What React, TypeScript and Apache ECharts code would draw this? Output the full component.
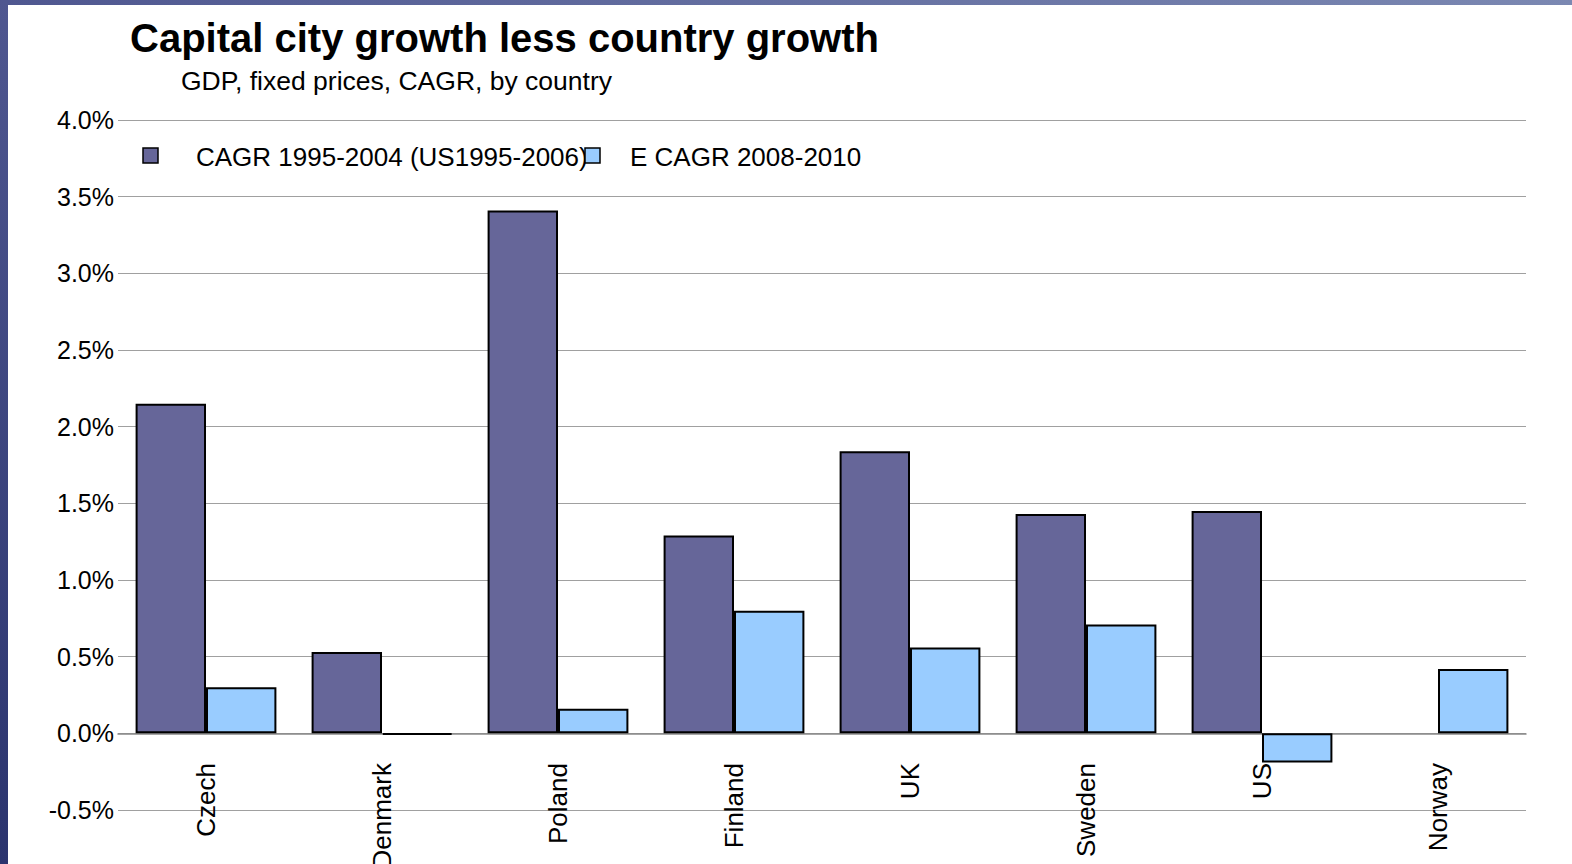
import React, { useEffect, useRef } from "react";
import * as echarts from "echarts";

const categories = ["Czech", "Denmark", "Poland", "Finland", "UK", "Sweden", "US", "Norway"];
const cagr1995 = [2.15, 0.53, 3.41, 1.29, 1.84, 1.43, 1.45, null];
const cagr2008 = [0.3, -0.01, 0.16, 0.8, 0.56, 0.71, -0.19, 0.42];
const seriesNames = ["CAGR 1995-2004 (US1995-2006)", "E CAGR 2008-2010"];
const titleText = "Capital city growth less country growth";
const subtitleText = "GDP, fixed prices, CAGR, by country";

const DARK = "#666699";
const LIGHT = "#99ccff";
const FONT = "'Liberation Sans', Arial, sans-serif";

export default function App() {
  const ref = useRef<HTMLDivElement>(null);
  useEffect(() => {
    const chart = echarts.init(ref.current!, null, { renderer: "svg" });
    chart.setOption({
      animation: false,
      backgroundColor: "#ffffff",
      textStyle: { fontFamily: FONT },
      title: [
        {
          text: titleText,
          left: 125,
          top: 13,
          textStyle: { fontSize: 40, fontWeight: "bold", color: "#000", fontFamily: FONT },
        },
        {
          text: subtitleText,
          left: 176,
          top: 62,
          textStyle: { fontSize: 26.5, fontWeight: "normal", color: "#000", fontFamily: FONT },
        },
      ],
      grid: { left: 118, right: 46, top: 120, bottom: 54, containLabel: false, outerBoundsMode: "none" },
      xAxis: {
        type: "category",
        data: categories,
        axisLine: { onZero: true, lineStyle: { color: "#888", width: 1.5 } },
        axisTick: { show: false },
        axisLabel: { rotate: 90, margin: -47, fontSize: 26, color: "#000", fontFamily: FONT },
        splitLine: { show: false },
      },
      yAxis: {
        type: "value",
        min: -0.5,
        max: 4.0,
        interval: 0.5,
        axisLine: { show: false },
        axisTick: { show: false },
        axisLabel: {
          fontSize: 25,
          color: "#000",
          margin: 4,
          fontFamily: FONT,
          formatter: (v: number) => v.toFixed(1) + "%",
        },
        splitLine: { lineStyle: { color: "#a0a0a0", width: 1.2 } },
      },
      series: [
        {
          name: seriesNames[0],
          type: "bar",
          data: cagr1995,
          barGap: "0%",
          barCategoryGap: "20%",
          itemStyle: { color: DARK, borderColor: "#000", borderWidth: 2 },
        },
        {
          name: seriesNames[1],
          type: "bar",
          data: cagr2008,
          barGap: "0%",
          barCategoryGap: "20%",
          itemStyle: { color: LIGHT, borderColor: "#000", borderWidth: 2 },
        },
      ],
      graphic: [
        {
          type: "rect",
          shape: { x: 0, y: 0, width: 1572, height: 5 },
          style: {
            fill: new echarts.graphic.LinearGradient(0, 0, 1, 0, [
              { offset: 0, color: "#4f5790" },
              { offset: 1, color: "#7b88b2" },
            ]),
          },
          z: 100,
        },
        {
          type: "rect",
          shape: { x: 0, y: 0, width: 8, height: 864 },
          style: {
            fill: new echarts.graphic.LinearGradient(0, 0, 0, 1, [
              { offset: 0, color: "#4f5790" },
              { offset: 1, color: "#2b346e" },
            ]),
          },
          z: 100,
        },
        {
          type: "rect",
          shape: { x: 143, y: 148, width: 15, height: 15 },
          style: { fill: DARK, stroke: "#000", lineWidth: 1.5 },
          z: 10,
        },
        {
          type: "text",
          x: 196,
          y: 157,
          style: {
            text: seriesNames[0],
            fontSize: 26,
            fontFamily: FONT,
            fill: "#000",
            verticalAlign: "middle",
          },
          z: 10,
        },
        {
          type: "rect",
          shape: { x: 585, y: 148, width: 15, height: 15 },
          style: { fill: LIGHT, stroke: "#000", lineWidth: 1.5 },
          z: 11,
        },
        {
          type: "text",
          x: 630,
          y: 157,
          style: {
            text: seriesNames[1],
            fontSize: 26,
            fontFamily: FONT,
            fill: "#000",
            verticalAlign: "middle",
          },
          z: 10,
        },
      ],
    });
    return () => chart.dispose();
  }, []);
  return (
    <div
      ref={ref}
      style={{ position: "fixed", left: 0, top: 0, width: 1572, height: 864 }}
    />
  );
}
